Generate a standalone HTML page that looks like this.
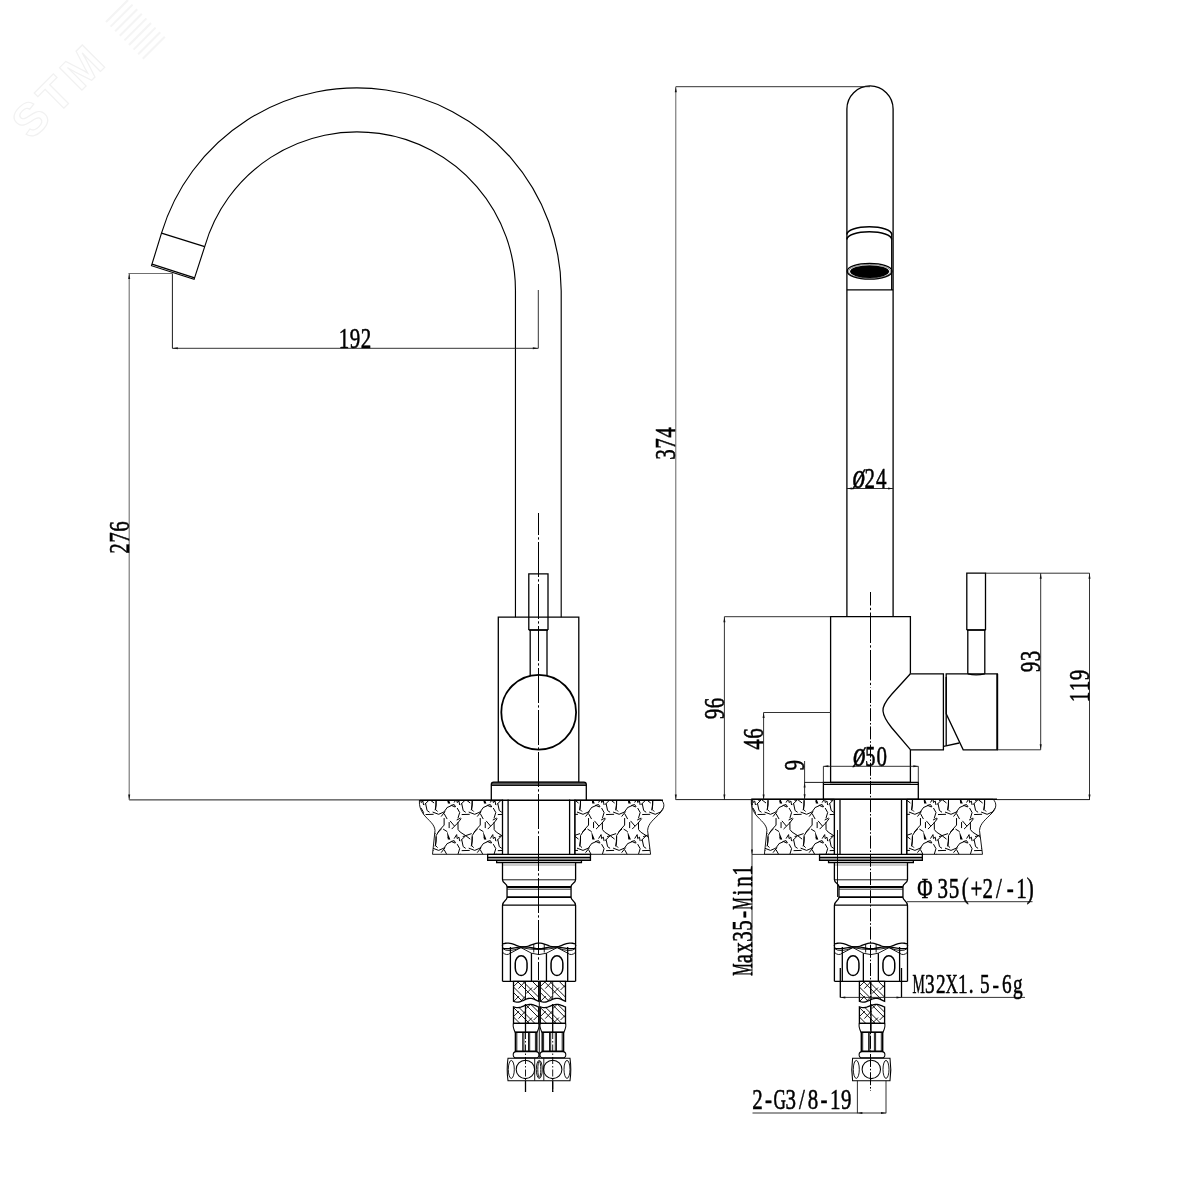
<!DOCTYPE html>
<html><head><meta charset="utf-8"><title>Faucet dimensional drawing</title>
<style>
html,body{margin:0;padding:0;background:#fff}
svg{display:block;filter:grayscale(1)}
.o{fill:none;stroke:#000;stroke-width:1.3}
.n{fill:none;stroke:#000;stroke-width:0.9}
.n1{fill:none;stroke:#000;stroke-width:1.05}
.sp{fill:none;stroke:#000;stroke-width:1.15}
.k{fill:none;stroke:#000;stroke-width:1.8}
.k1{fill:none;stroke:#000;stroke-width:1.4}
.k2{fill:none;stroke:#000;stroke-width:1.5}
.t{fill:none;stroke:#1c1c1c;stroke-width:0.9}
.a{fill:#111;stroke:none}
.tg2{fill:none;stroke:#505050;stroke-width:0.9}
.tg{fill:none;stroke:#707070;stroke-width:1.1}
.c{fill:none;stroke:#000;stroke-width:1;stroke-dasharray:35 2.3 2.3 2.4;stroke-dashoffset:13}
.cR{fill:none;stroke:#000;stroke-width:1;stroke-dasharray:30.5 2.3 2.3 2.4;stroke-dashoffset:17}
.cS{fill:none;stroke:#000;stroke-width:1;stroke-dasharray:13 1.8 1.6 1.8}
.c2{fill:none;stroke:#000;stroke-width:0.9;stroke-dasharray:7 2 1.5 2}
.g{fill:none;stroke:#000;stroke-width:1}
.gr{fill:none;stroke:#999;stroke-width:1}
.gw{fill:#000;stroke:none}
text{font-family:"Liberation Serif",serif;fill:#000;stroke:#000;stroke-width:0.55;text-anchor:middle}
text.wm{font-family:"Liberation Sans",sans-serif;font-weight:bold;fill:none;stroke:#f1f1f1;stroke-width:1.2;text-anchor:start;letter-spacing:5px}
</style></head><body>
<svg width="1200" height="1200" viewBox="0 0 1200 1200">
<rect width="1200" height="1200" fill="#fff"/>
<path class="sp" d="M561.2 617.2V290.7A204.2 204.2 0 0 0 161.5 233.2L151.5 265.7L194.1 279.4L204.7 246.6A158.45 158.45 0 0 1 515.45 290.7V617.2"/>
<path class="o" d="M161.5 233.2L204.7 246.6"/>
<path class="o" d="M152 264.1L194.6 277.8"/>
<path class="o" d="M498.3 617.2H578.8V782.5H498.3Z"/>
<path class="o" d="M528.8 630V573.8H548V630"/>
<path class="k" d="M528.8 630L548 630"/>
<path class="o" d="M530.2 630L530.2 676"/>
<path class="o" d="M547 630L547 676"/>
<circle class="k" cx="538.7" cy="712.2" r="37.4"/>
<path d="M491.3 785.5V784.4Q491.3 782.1 493.7 782.1H583.9Q586.3 782.1 586.3 784.4V785.5Z" fill="#555"/>
<path class="o" d="M491.3 800.2V784.4Q491.3 782.1 493.7 782.1H583.9Q586.3 782.1 586.3 784.4V800.2"/>
<path class="n" d="M491.3 785.5L586.3 785.5"/>
<path class="n" d="M129.2 799.9L419.4 799.9"/>
<path class="k1" d="M419.4 800.2L663 800.2"/>
<g id="stoneL">
<clipPath id="cl1"><path d="M419.4 800.2C419 806 420.6 810.5 424.1 815C428.6 820.5 434.6 824 435 830.5L432.5 854.3H502.5V800.2Z"/></clipPath><clipPath id="cr1"><path d="M575 800.2H661.2C665.2 803 664.6 808.5 660.1 813C654.6 819 648.1 823 647.6 830.5L650.6 854.3H575Z"/></clipPath>
<g clip-path="url(#cl1)"><path class="g" d="M444.14 781.96L444.14 788.98L439.62 793.99L436.12 799.51L436.12 805.02L435.11 810.29M421.83 785.97L421.98 793.49L424.08 796L429.6 799.51L434.11 803.02M426.59 800.51L429.6 799.51L435.61 797.5M418.07 802.52L420.57 798.5L421.07 802.52L422.83 801.01L423.58 805.02M414.56 805.52L418.07 804.52L419.57 807.03M424.58 804.52L429.6 799.61M444.14 818.06L444.14 825.08L439.62 830.09L436.12 835.61L436.12 841.12L435.11 846.39M425.59 814.55L433.61 814.3M421.07 808.03L423.58 812.54L421.83 818.31M421.83 822.07L421.98 829.59L424.08 832.1L429.6 835.61L434.11 839.12M426.59 836.61L429.6 835.61L435.61 833.6M432.61 812.04L438.62 814.3L443.89 812.04L447.4 807.28M441.13 816.55L445.14 811.54M444.14 813.55L447.15 819.06M425.59 803.52L427.09 810.54L429.6 812.29M436.12 800.51L435.61 809.53L437.62 811.54M411.05 807.53L415.56 805.52L419.07 807.03M413.95 820.87L418.37 826.08M437.62 832.5L441.63 828.89M415.56 829.09L421.57 823.07L425.08 818.56M420.57 820.06L424.58 818.06M418.07 838.62L420.57 834.6L421.07 838.62L422.83 837.11L423.58 841.12M414.56 841.62L418.07 840.62L419.57 843.13M424.58 840.62L429.6 835.71M444.14 854.16L444.14 861.18L439.62 866.19L436.12 871.71L436.12 877.22L435.11 882.49M425.59 850.65L433.61 850.4M421.07 844.13L423.58 848.64L421.83 854.41M432.61 848.14L438.62 850.4L443.89 848.14L447.4 843.38M441.13 852.65L445.14 847.64M444.14 849.65L447.15 855.16M425.59 839.62L427.09 846.64L429.6 848.39M436.12 836.61L435.61 845.63L437.62 847.64M411.05 843.63L415.56 841.62L419.07 843.13M413.95 856.97L418.37 862.18M415.56 865.19L421.57 859.17L425.08 854.66M420.57 856.16L424.58 854.16M480.24 781.96L480.24 788.98L475.73 793.99L472.22 799.51L472.22 805.02L471.21 810.29M457.93 785.97L458.08 793.49L460.18 796L465.7 799.51L470.21 803.02M462.69 800.51L465.7 799.51L471.71 797.5M454.17 802.52L456.67 798.5L457.17 802.52L458.93 801.01L459.68 805.02M450.66 805.52L454.17 804.52L455.67 807.03M460.68 804.52L465.7 799.61M480.24 818.06L480.24 825.08L475.73 830.09L472.22 835.61L472.22 841.12L471.21 846.39M461.69 814.55L469.71 814.3M457.17 808.03L459.68 812.54L457.93 818.31M457.93 822.07L458.08 829.59L460.18 832.1L465.7 835.61L470.21 839.12M462.69 836.61L465.7 835.61L471.71 833.6M468.71 812.04L474.72 814.3L479.99 812.04L483.5 807.28M477.23 816.55L481.24 811.54M480.24 813.55L483.25 819.06M461.69 803.52L463.19 810.54L465.7 812.29M472.22 800.51L471.71 809.53L473.72 811.54M447.15 807.53L451.66 805.52L455.17 807.03M449.15 822.07L449.15 828.09M450.05 820.87L454.47 826.08M473.72 832.5L477.73 828.89M451.66 829.09L457.68 823.07L461.18 818.56M456.67 820.06L460.68 818.06M443.13 829.09L447.15 831.6M454.17 838.62L456.67 834.6L457.17 838.62L458.93 837.11L459.68 841.12M450.66 841.62L454.17 840.62L455.67 843.13M460.68 840.62L465.7 835.71M447.65 801.61L449.65 802.82M480.24 854.16L480.24 861.18L475.73 866.19L472.22 871.71L472.22 877.22L471.21 882.49M461.69 850.65L469.71 850.4M457.17 844.13L459.68 848.64L457.93 854.41M468.71 848.14L474.72 850.4L479.99 848.14L483.5 843.38M477.23 852.65L481.24 847.64M480.24 849.65L483.25 855.16M461.69 839.62L463.19 846.64L465.7 848.39M472.22 836.61L471.71 845.63L473.72 847.64M447.15 843.63L451.66 841.62L455.17 843.13M450.05 856.97L454.47 862.18M451.66 865.19L457.68 859.17L461.18 854.66M456.67 856.16L460.68 854.16M447.65 837.71L449.65 838.92M494.03 785.97L494.18 793.49L496.28 796L501.8 799.51L506.31 803.02M498.79 800.51L501.8 799.51L507.81 797.5M490.27 802.52L492.77 798.5L493.27 802.52L495.03 801.01L495.78 805.02M486.76 805.52L490.27 804.52L491.77 807.03M496.78 804.52L501.8 799.61M497.79 814.55L505.81 814.3M493.27 808.03L495.78 812.54L494.03 818.31M494.03 822.07L494.18 829.59L496.28 832.1L501.8 835.61L506.31 839.12M498.79 836.61L501.8 835.61L507.81 833.6M497.79 803.52L499.29 810.54L501.8 812.29M483.25 807.53L487.76 805.52L491.27 807.03M485.25 822.07L485.25 828.09M486.15 820.87L490.57 826.08M487.76 829.09L493.77 823.07L497.28 818.56M492.77 820.06L496.78 818.06M479.23 829.09L483.25 831.6M490.27 838.62L492.77 834.6L493.27 838.62L495.03 837.11L495.78 841.12M486.76 841.62L490.27 840.62L491.77 843.13M496.78 840.62L501.8 835.71M483.75 801.61L485.75 802.82M497.79 850.65L505.81 850.4M493.27 844.13L495.78 848.64L494.03 854.41M497.79 839.62L499.29 846.64L501.8 848.39M483.25 843.63L487.76 841.62L491.27 843.13M486.15 856.97L490.57 862.18M487.76 865.19L493.77 859.17L497.28 854.66M492.77 856.16L496.78 854.16M483.75 837.71L485.75 838.92"/><path class="gw" d="M446.85 794.9L447.85 803.4L450.35 803.4ZM446.85 831L447.85 839.5L450.35 839.5ZM482.95 794.9L483.95 803.4L486.45 803.4ZM482.95 831L483.95 839.5L486.45 839.5Z"/></g>
<g clip-path="url(#cr1)"><path class="g" d="M588.54 781.96L588.54 788.98L584.02 793.99L580.52 799.51L580.52 805.02L579.51 810.29M566.23 785.97L566.38 793.49L568.48 796L574 799.51L578.51 803.02M570.99 800.51L574 799.51L580.01 797.5M568.98 804.52L574 799.61M588.54 818.06L588.54 825.08L584.02 830.09L580.52 835.61L580.52 841.12L579.51 846.39M569.99 814.55L578.01 814.3M566.23 822.07L566.38 829.59L568.48 832.1L574 835.61L578.51 839.12M570.99 836.61L574 835.61L580.01 833.6M577.01 812.04L583.02 814.3L588.29 812.04L591.8 807.28M585.53 816.55L589.54 811.54M588.54 813.55L591.55 819.06M569.99 803.52L571.49 810.54L574 812.29M580.52 800.51L580.01 809.53L582.02 811.54M582.02 832.5L586.03 828.89M568.98 840.62L574 835.71M588.54 854.16L588.54 861.18L584.02 866.19L580.52 871.71L580.52 877.22L579.51 882.49M569.99 850.65L578.01 850.4M577.01 848.14L583.02 850.4L588.29 848.14L591.8 843.38M585.53 852.65L589.54 847.64M588.54 849.65L591.55 855.16M569.99 839.62L571.49 846.64L574 848.39M580.52 836.61L580.01 845.63L582.02 847.64M624.64 781.96L624.64 788.98L620.12 793.99L616.62 799.51L616.62 805.02L615.61 810.29M602.33 785.97L602.48 793.49L604.58 796L610.1 799.51L614.61 803.02M607.09 800.51L610.1 799.51L616.11 797.5M598.57 802.52L601.07 798.5L601.57 802.52L603.33 801.01L604.08 805.02M595.06 805.52L598.57 804.52L600.07 807.03M605.08 804.52L610.1 799.61M624.64 818.06L624.64 825.08L620.12 830.09L616.62 835.61L616.62 841.12L615.61 846.39M606.09 814.55L614.11 814.3M601.57 808.03L604.08 812.54L602.33 818.31M602.33 822.07L602.48 829.59L604.58 832.1L610.1 835.61L614.61 839.12M607.09 836.61L610.1 835.61L616.11 833.6M613.11 812.04L619.12 814.3L624.39 812.04L627.9 807.28M621.63 816.55L625.64 811.54M624.64 813.55L627.65 819.06M606.09 803.52L607.59 810.54L610.1 812.29M616.62 800.51L616.11 809.53L618.12 811.54M591.55 807.53L596.06 805.52L599.57 807.03M593.55 822.07L593.55 828.09M594.45 820.87L598.87 826.08M618.12 832.5L622.13 828.89M596.06 829.09L602.08 823.07L605.58 818.56M601.07 820.06L605.08 818.06M587.53 829.09L591.55 831.6M598.57 838.62L601.07 834.6L601.57 838.62L603.33 837.11L604.08 841.12M595.06 841.62L598.57 840.62L600.07 843.13M605.08 840.62L610.1 835.71M592.05 801.61L594.05 802.82M624.64 854.16L624.64 861.18L620.12 866.19L616.62 871.71L616.62 877.22L615.61 882.49M606.09 850.65L614.11 850.4M601.57 844.13L604.08 848.64L602.33 854.41M613.11 848.14L619.12 850.4L624.39 848.14L627.9 843.38M621.63 852.65L625.64 847.64M624.64 849.65L627.65 855.16M606.09 839.62L607.59 846.64L610.1 848.39M616.62 836.61L616.11 845.63L618.12 847.64M591.55 843.63L596.06 841.62L599.57 843.13M594.45 856.97L598.87 862.18M596.06 865.19L602.08 859.17L605.58 854.66M601.07 856.16L605.08 854.16M592.05 837.71L594.05 838.92M660.74 781.96L660.74 788.98L656.23 793.99L652.72 799.51L652.72 805.02L651.71 810.29M638.43 785.97L638.58 793.49L640.68 796L646.2 799.51L650.71 803.02M643.19 800.51L646.2 799.51L652.21 797.5M634.67 802.52L637.17 798.5L637.67 802.52L639.43 801.01L640.18 805.02M631.16 805.52L634.67 804.52L636.17 807.03M641.18 804.52L646.2 799.61M660.74 818.06L660.74 825.08L656.23 830.09L652.72 835.61L652.72 841.12L651.71 846.39M642.19 814.55L650.21 814.3M637.67 808.03L640.18 812.54L638.43 818.31M638.43 822.07L638.58 829.59L640.68 832.1L646.2 835.61L650.71 839.12M643.19 836.61L646.2 835.61L652.21 833.6M649.21 812.04L655.22 814.3L660.49 812.04L664 807.28M657.73 816.55L661.74 811.54M660.74 813.55L663.75 819.06M642.19 803.52L643.69 810.54L646.2 812.29M652.72 800.51L652.21 809.53L654.22 811.54M627.65 807.53L632.16 805.52L635.67 807.03M629.65 822.07L629.65 828.09M630.55 820.87L634.97 826.08M654.22 832.5L658.23 828.89M632.16 829.09L638.18 823.07L641.68 818.56M637.17 820.06L641.18 818.06M623.63 829.09L627.65 831.6M634.67 838.62L637.17 834.6L637.67 838.62L639.43 837.11L640.18 841.12M631.16 841.62L634.67 840.62L636.17 843.13M641.18 840.62L646.2 835.71M628.15 801.61L630.15 802.82M660.74 854.16L660.74 861.18L656.23 866.19L652.72 871.71L652.72 877.22L651.71 882.49M642.19 850.65L650.21 850.4M637.67 844.13L640.18 848.64L638.43 854.41M649.21 848.14L655.22 850.4L660.49 848.14L664 843.38M657.73 852.65L661.74 847.64M660.74 849.65L663.75 855.16M642.19 839.62L643.69 846.64L646.2 848.39M652.72 836.61L652.21 845.63L654.22 847.64M627.65 843.63L632.16 841.62L635.67 843.13M630.55 856.97L634.97 862.18M632.16 865.19L638.18 859.17L641.68 854.66M637.17 856.16L641.18 854.16M628.15 837.71L630.15 838.92M667.26 805.52L670.77 804.52L672.27 807.03M663.75 807.53L668.26 805.52L671.77 807.03M665.75 822.07L665.75 828.09M666.65 820.87L671.07 826.08M659.73 829.09L663.75 831.6M667.26 841.62L670.77 840.62L672.27 843.13M664.25 801.61L666.25 802.82M663.75 843.63L668.26 841.62L671.77 843.13M666.65 856.97L671.07 862.18M664.25 837.71L666.25 838.92"/><path class="gw" d="M591.25 794.9L592.25 803.4L594.75 803.4ZM591.25 831L592.25 839.5L594.75 839.5ZM627.35 794.9L628.35 803.4L630.85 803.4ZM627.35 831L628.35 839.5L630.85 839.5ZM663.45 794.9L664.45 803.4L666.95 803.4ZM663.45 831L664.45 839.5L666.95 839.5Z"/></g>
<path class="n" d="M419.4 800.2C419 806 420.6 810.5 424.1 815C428.6 820.5 434.6 824 435 830.5L432.5 854.3H502.5V800.2Z"/>
<path class="n" d="M575 800.2H661.2C665.2 803 664.6 808.5 660.1 813C654.6 819 648.1 823 647.6 830.5L650.6 854.3H575Z"/>
</g>
<path class="o" d="M502.5 799.5L502.5 854.3"/>
<path class="o" d="M508.1 799.5L508.1 854.3"/>
<path class="o" d="M569.6 799.5L569.6 854.3"/>
<path class="o" d="M574.8 799.5L574.8 854.3"/>
<rect x="487.65" y="857.3" width="102.8" height="3" fill="#9a9a9a"/>
<path class="o" d="M487.65 854.4H590.45V860.3H487.65Z"/>
<path class="o" d="M487.65 857.3L590.45 857.3"/>
<path class="o" d="M496.65 860.3V862.5H581.45V860.3"/>
<path class="gr" d="M503.05 865L575.05 865"/>
<path class="o" d="M502.5 862.5V879.5C502.5 883.5 507.05 883 507.05 887V897.2C507.05 901 502.5 900.5 502.5 905.5V946"/>
<path class="o" d="M575.6 862.5V879.5C575.6 883.5 571.05 883 571.05 887V897.2C571.05 901 575.6 900.5 575.6 905.5V946"/>
<path class="n" d="M502.5 879.8L575.6 879.8"/>
<path class="k" d="M507.05 887L571.05 887"/>
<path class="t" d="M507.05 889.2L571.05 889.2"/>
<path class="k" d="M507.05 897.2L571.05 897.2"/>
<path class="o" d="M502.5 905.2L575.6 905.2"/>
<path class="o" d="M502.5 945L502.5 981.3"/>
<path class="o" d="M575.6 945L575.6 981.3"/>
<path class="o" d="M502.5 981.3L575.6 981.3"/>
<path class="o" d="M502.5 943.99L504.02 943.55L505.55 943.25L507.07 943.11L508.59 943.14L510.11 943.34L511.64 943.7L513.16 944.17L514.68 944.72L516.21 945.29L517.73 945.84L519.25 946.31L520.78 946.66L522.3 946.86L523.82 946.89L525.34 946.74L526.87 946.44L528.39 946L529.91 945.47L531.44 944.9L532.96 944.34L534.48 943.84L536 943.44L537.53 943.19L539.05 943.1L540.57 943.19L542.1 943.44L543.62 943.84L545.14 944.34L546.66 944.9L548.19 945.47L549.71 946L551.23 946.44L552.76 946.74L554.28 946.89L555.8 946.86L557.33 946.66L558.85 946.31L560.37 945.84L561.89 945.29L563.42 944.72L564.94 944.17L566.46 943.7L567.99 943.34L569.51 943.14L571.03 943.11L572.55 943.25L574.08 943.55L575.6 943.99"/>
<path class="o" d="M502.5 948.18L504.02 948.39L505.55 948.53L507.07 948.6L508.59 948.58L510.11 948.48L511.64 948.32L513.16 948.09L514.68 947.83L516.21 947.56L517.73 947.3L519.25 947.08L520.78 946.91L522.3 946.82L523.82 946.8L525.34 946.87L526.87 947.02L528.39 947.23L529.91 947.48L531.44 947.75L532.96 948.01L534.48 948.25L536 948.44L537.53 948.56L539.05 948.6L540.57 948.56L542.1 948.44L543.62 948.25L545.14 948.01L546.66 947.75L548.19 947.48L549.71 947.23L551.23 947.02L552.76 946.87L554.28 946.8L555.8 946.82L557.33 946.91L558.85 947.08L560.37 947.3L561.89 947.56L563.42 947.83L564.94 948.09L566.46 948.32L567.99 948.48L569.51 948.58L571.03 948.6L572.55 948.53L574.08 948.39L575.6 948.18"/>
<path class="o" d="M510.4 947L510.4 981.3"/>
<path class="o" d="M531.45 953.2L531.45 981.3"/>
<path class="o" d="M546.45 953.2L546.45 981.3"/>
<path class="o" d="M567.7 947L567.7 981.3"/>
<path class="n" d="M533.75 944L533.75 952.5"/>
<path class="n" d="M544.25 944L544.25 952.5"/>
<path class="n" d="M510.4 953.2L520.95 947.6L531.45 953.2"/>
<path class="n" d="M546.45 953.2L557.15 947.6L567.7 953.2"/>
<path class="n" d="M531.45 953.2Q539.05 956 546.45 953.2"/>
<path class="n" d="M502.5 952.3Q506.55 956.3 510.4 953.2"/>
<path class="n" d="M575.6 952.3Q571.55 956.3 567.7 953.2"/>
<path class="n" d="M502.5 948.5Q508.05 953 520.95 947.6"/>
<path class="n" d="M575.6 948.5Q570.05 953 557.15 947.6"/>
<path class="n" d="M520.95 947.6Q539.05 951.5 557.15 947.6"/>
<rect class="k2" x="515.25" y="955.8" width="11.8" height="19.8" rx="5.9" ry="7.5"/>
<rect class="k2" x="551.05" y="955.8" width="11.8" height="19.8" rx="5.9" ry="7.5"/>
<clipPath id="h5261"><path d="M513.5 981.3L513.5 1001.27L514.55 1001.64L515.6 1001.91L516.65 1002.07L517.7 1002.09L518.75 1001.99L519.8 1001.77L520.85 1001.44L521.9 1001.02L522.95 1000.55L524 1000.05L525.05 999.57L526.1 999.13L527.15 998.76L528.2 998.49L529.25 998.33L530.3 998.31L531.35 998.41L532.4 998.63L533.45 998.96L534.5 999.38L535.55 999.85L536.6 1000.35L537.65 1000.83L538.7 1001.27L538.7 981.3Z"/><path d="M513.5 1006.9L514.55 1007.21L515.6 1007.44L516.65 1007.57L517.7 1007.6L518.75 1007.51L519.8 1007.32L520.85 1007.04L521.9 1006.69L522.95 1006.29L524 1005.88L525.05 1005.47L526.1 1005.1L527.15 1004.79L528.2 1004.56L529.25 1004.43L530.3 1004.4L531.35 1004.49L532.4 1004.68L533.45 1004.96L534.5 1005.31L535.55 1005.71L536.6 1006.12L537.65 1006.53L538.7 1006.9L538.7 1023.3L513.5 1023.3Z"/></clipPath>
<g clip-path="url(#h5261)"><path class="n" d="M513.5 927L538.7 952.2M513.5 932.5L538.7 957.7M513.5 942L538.7 967.2M513.5 947.5L538.7 972.7M513.5 957L538.7 982.2M513.5 962.5L538.7 987.7M513.5 972L538.7 997.2M513.5 977.5L538.7 1002.7M513.5 987L538.7 1012.2M513.5 992.5L538.7 1017.7M513.5 1002L538.7 1027.2M513.5 1007.5L538.7 1032.7M513.5 1017L538.7 1042.2M513.5 1022.5L538.7 1047.7M513.5 1032L538.7 1057.2M513.5 1037.5L538.7 1062.7M513.5 1047L538.7 1072.2M513.5 1052.5L538.7 1077.7M513.5 1062L538.7 1087.2M513.5 1067.5L538.7 1092.7M513.5 1077L538.7 1102.2M513.5 1082.5L538.7 1107.7M518.5 943.6L525.6 936M513.5 956.6L519 951.1M526.1 948.6L532.1 942.6M533.7 945L538.7 940M518.5 958.6L525.6 951M513.5 971.6L519 966.1M526.1 963.6L532.1 957.6M533.7 960L538.7 955M518.5 973.6L525.6 966M513.5 986.6L519 981.1M526.1 978.6L532.1 972.6M533.7 975L538.7 970M518.5 988.6L525.6 981M513.5 1001.6L519 996.1M526.1 993.6L532.1 987.6M533.7 990L538.7 985M518.5 1003.6L525.6 996M513.5 1016.6L519 1011.1M526.1 1008.6L532.1 1002.6M533.7 1005L538.7 1000M518.5 1018.6L525.6 1011M513.5 1031.6L519 1026.1M526.1 1023.6L532.1 1017.6M533.7 1020L538.7 1015M518.5 1033.6L525.6 1026M513.5 1046.6L519 1041.1M526.1 1038.6L532.1 1032.6M533.7 1035L538.7 1030M518.5 1048.6L525.6 1041M513.5 1061.6L519 1056.1M526.1 1053.6L532.1 1047.6M533.7 1050L538.7 1045M518.5 1063.6L525.6 1056M513.5 1076.6L519 1071.1M526.1 1068.6L532.1 1062.6M533.7 1065L538.7 1060M518.5 1078.6L525.6 1071M513.5 1091.6L519 1086.1M526.1 1083.6L532.1 1077.6M533.7 1080L538.7 1075M518.5 1093.6L525.6 1086M513.5 1106.6L519 1101.1M526.1 1098.6L532.1 1092.6M533.7 1095L538.7 1090"/></g>
<path class="o" d="M513.5 981.3L513.5 1001.27L514.55 1001.64L515.6 1001.91L516.65 1002.07L517.7 1002.09L518.75 1001.99L519.8 1001.77L520.85 1001.44L521.9 1001.02L522.95 1000.55L524 1000.05L525.05 999.57L526.1 999.13L527.15 998.76L528.2 998.49L529.25 998.33L530.3 998.31L531.35 998.41L532.4 998.63L533.45 998.96L534.5 999.38L535.55 999.85L536.6 1000.35L537.65 1000.83L538.7 1001.27L538.7 981.3Z"/>
<path class="o" d="M513.5 1006.9L514.55 1007.21L515.6 1007.44L516.65 1007.57L517.7 1007.6L518.75 1007.51L519.8 1007.32L520.85 1007.04L521.9 1006.69L522.95 1006.29L524 1005.88L525.05 1005.47L526.1 1005.1L527.15 1004.79L528.2 1004.56L529.25 1004.43L530.3 1004.4L531.35 1004.49L532.4 1004.68L533.45 1004.96L534.5 1005.31L535.55 1005.71L536.6 1006.12L537.65 1006.53L538.7 1006.9L538.7 1023.3L513.5 1023.3Z"/>
<path class="n" d="M525.5 981.3L525.5 1000"/>
<path class="o" d="M525.5 1004L525.5 1032"/>
<path class="n1" d="M513.5 1023.3H538.7Q539.9 1026.5 537.1 1032.2H515.1Q512.3 1026.5 513.5 1023.3Z"/>
<path class="k1" d="M515.4 1032.3H536.8V1051.3H515.4Z"/>
<path class="n" d="M522.7 1032.3L522.7 1051.3"/>
<path class="n" d="M523.9 1032.3L523.9 1051.3"/>
<path class="n" d="M528.5 1032.3L528.5 1051.3"/>
<path class="n" d="M529.7 1032.3L529.7 1051.3"/>
<path class="n" d="M516.8 1032.3L516.8 1051.3"/>
<path class="n" d="M535.4 1032.3L535.4 1051.3"/>
<rect class="n1" x="513.2" y="1051.6" width="25.8" height="6.2" rx="3.1"/>
<clipPath id="h5529"><path d="M540.3 981.3L540.3 1001.27L541.35 1001.64L542.4 1001.91L543.45 1002.07L544.5 1002.09L545.55 1001.99L546.6 1001.77L547.65 1001.44L548.7 1001.02L549.75 1000.55L550.8 1000.05L551.85 999.57L552.9 999.13L553.95 998.76L555 998.49L556.05 998.33L557.1 998.31L558.15 998.41L559.2 998.63L560.25 998.96L561.3 999.38L562.35 999.85L563.4 1000.35L564.45 1000.83L565.5 1001.27L565.5 981.3Z"/><path d="M540.3 1006.9L541.35 1007.21L542.4 1007.44L543.45 1007.57L544.5 1007.6L545.55 1007.51L546.6 1007.32L547.65 1007.04L548.7 1006.69L549.75 1006.29L550.8 1005.88L551.85 1005.47L552.9 1005.1L553.95 1004.79L555 1004.56L556.05 1004.43L557.1 1004.4L558.15 1004.49L559.2 1004.68L560.25 1004.96L561.3 1005.31L562.35 1005.71L563.4 1006.12L564.45 1006.53L565.5 1006.9L565.5 1023.3L540.3 1023.3Z"/></clipPath>
<g clip-path="url(#h5529)"><path class="n" d="M540.3 927L565.5 952.2M540.3 932.5L565.5 957.7M540.3 942L565.5 967.2M540.3 947.5L565.5 972.7M540.3 957L565.5 982.2M540.3 962.5L565.5 987.7M540.3 972L565.5 997.2M540.3 977.5L565.5 1002.7M540.3 987L565.5 1012.2M540.3 992.5L565.5 1017.7M540.3 1002L565.5 1027.2M540.3 1007.5L565.5 1032.7M540.3 1017L565.5 1042.2M540.3 1022.5L565.5 1047.7M540.3 1032L565.5 1057.2M540.3 1037.5L565.5 1062.7M540.3 1047L565.5 1072.2M540.3 1052.5L565.5 1077.7M540.3 1062L565.5 1087.2M540.3 1067.5L565.5 1092.7M540.3 1077L565.5 1102.2M540.3 1082.5L565.5 1107.7M545.3 943.6L552.4 936M540.3 956.6L545.8 951.1M552.9 948.6L558.9 942.6M560.5 945L565.5 940M545.3 958.6L552.4 951M540.3 971.6L545.8 966.1M552.9 963.6L558.9 957.6M560.5 960L565.5 955M545.3 973.6L552.4 966M540.3 986.6L545.8 981.1M552.9 978.6L558.9 972.6M560.5 975L565.5 970M545.3 988.6L552.4 981M540.3 1001.6L545.8 996.1M552.9 993.6L558.9 987.6M560.5 990L565.5 985M545.3 1003.6L552.4 996M540.3 1016.6L545.8 1011.1M552.9 1008.6L558.9 1002.6M560.5 1005L565.5 1000M545.3 1018.6L552.4 1011M540.3 1031.6L545.8 1026.1M552.9 1023.6L558.9 1017.6M560.5 1020L565.5 1015M545.3 1033.6L552.4 1026M540.3 1046.6L545.8 1041.1M552.9 1038.6L558.9 1032.6M560.5 1035L565.5 1030M545.3 1048.6L552.4 1041M540.3 1061.6L545.8 1056.1M552.9 1053.6L558.9 1047.6M560.5 1050L565.5 1045M545.3 1063.6L552.4 1056M540.3 1076.6L545.8 1071.1M552.9 1068.6L558.9 1062.6M560.5 1065L565.5 1060M545.3 1078.6L552.4 1071M540.3 1091.6L545.8 1086.1M552.9 1083.6L558.9 1077.6M560.5 1080L565.5 1075M545.3 1093.6L552.4 1086M540.3 1106.6L545.8 1101.1M552.9 1098.6L558.9 1092.6M560.5 1095L565.5 1090"/></g>
<path class="o" d="M540.3 981.3L540.3 1001.27L541.35 1001.64L542.4 1001.91L543.45 1002.07L544.5 1002.09L545.55 1001.99L546.6 1001.77L547.65 1001.44L548.7 1001.02L549.75 1000.55L550.8 1000.05L551.85 999.57L552.9 999.13L553.95 998.76L555 998.49L556.05 998.33L557.1 998.31L558.15 998.41L559.2 998.63L560.25 998.96L561.3 999.38L562.35 999.85L563.4 1000.35L564.45 1000.83L565.5 1001.27L565.5 981.3Z"/>
<path class="o" d="M540.3 1006.9L541.35 1007.21L542.4 1007.44L543.45 1007.57L544.5 1007.6L545.55 1007.51L546.6 1007.32L547.65 1007.04L548.7 1006.69L549.75 1006.29L550.8 1005.88L551.85 1005.47L552.9 1005.1L553.95 1004.79L555 1004.56L556.05 1004.43L557.1 1004.4L558.15 1004.49L559.2 1004.68L560.25 1004.96L561.3 1005.31L562.35 1005.71L563.4 1006.12L564.45 1006.53L565.5 1006.9L565.5 1023.3L540.3 1023.3Z"/>
<path class="n" d="M552.7 981.3L552.7 1000"/>
<path class="o" d="M552.7 1004L552.7 1032"/>
<path class="n1" d="M540.3 1023.3H565.5Q566.7 1026.5 563.9 1032.2H541.9Q539.1 1026.5 540.3 1023.3Z"/>
<path class="k1" d="M542.2 1032.3H563.6V1051.3H542.2Z"/>
<path class="n" d="M549.5 1032.3L549.5 1051.3"/>
<path class="n" d="M550.7 1032.3L550.7 1051.3"/>
<path class="n" d="M555.3 1032.3L555.3 1051.3"/>
<path class="n" d="M556.5 1032.3L556.5 1051.3"/>
<path class="n" d="M543.6 1032.3L543.6 1051.3"/>
<path class="n" d="M562.2 1032.3L562.2 1051.3"/>
<rect class="n1" x="540" y="1051.6" width="25.8" height="6.2" rx="3.1"/>
<path class="n" d="M539.3 981.3L539.3 1058"/>
<path class="n1" d="M508 1058.3H570Q571.6 1069.5 570 1080.7H508Q506.4 1069.5 508 1058.3Z"/>
<circle class="n1" cx="525.4" cy="1069.4" r="9.2"/>
<circle class="n1" cx="552.7" cy="1069.4" r="9.2"/>
<ellipse class="n" cx="511.3" cy="1069.4" rx="3" ry="9"/>
<ellipse class="n" cx="567" cy="1069.4" rx="3" ry="9"/>
<ellipse class="n" cx="539.3" cy="1069.4" rx="3" ry="9"/>
<ellipse class="n" cx="539.3" cy="1069.4" rx="1.5" ry="8"/>
<path class="n" d="M534.7 1058.3L534.7 1080.7"/>
<path class="n" d="M543.8 1058.3L543.8 1080.7"/>
<path class="c" d="M538.5 513L538.5 980"/>
<path class="c2" d="M525.5 1032L525.5 1092"/>
<path class="c2" d="M552.7 1032L552.7 1092"/>
<path class="o" d="M525.5 1080.7L525.5 1092"/>
<path class="o" d="M552.7 1080.7L552.7 1092"/>
<path class="tg" d="M128.5 273.5L172.3 273.5"/>
<path class="n" d="M172.4 273.5L172.4 348.3"/>
<path class="t" d="M172.3 348.3L538.3 348.3"/>
<path class="t" d="M538.3 290L538.3 348.3"/>
<path class="a" d="M172.3 348.3L177.8 347.3L177.8 349.3Z"/>
<path class="a" d="M538.3 348.3L532.8 349.3L532.8 347.3Z"/>
<path class="tg" d="M129.2 273.5L129.2 800"/>
<path class="a" d="M129.2 273.5L130.2 279L128.2 279Z"/>
<path class="a" d="M129.2 800L128.2 794.5L130.2 794.5Z"/>
<path class="o" d="M846.9 616.7V109A23.1 23.1 0 0 1 893.1 109V616.7"/>
<path class="k2" d="M846.9 234.4A22.4 7.7 0 0 1 891.7 234.4"/>
<path class="k2" d="M846.9 239.4A22.4 7.7 0 0 1 891.7 239.4"/>
<path class="o" d="M891.7 233.5L891.7 290"/>
<ellipse class="o" cx="869.6" cy="271.3" rx="22.4" ry="7.9"/>
<ellipse class="t" cx="869.6" cy="271.5" rx="21" ry="7.1" style="stroke-width:.5"/>
<ellipse cx="869.6" cy="271.6" rx="19.5" ry="6.4" fill="#000"/>
<path class="o" d="M846.9 289.8L893.1 289.8"/>
<path class="o" d="M910.4 673.8V616.7H830.6V782.5H910.4V749.6"/>
<path class="o" d="M910.4 673.8L891.5 694.5C884.5 702.5 882.6 707 883 711C883.4 715.5 885.5 720 891.5 727.5L910.4 749.6"/>
<path class="o" d="M910.4 673.8H943.4V749.8H910.4"/>
<path class="o" d="M946.2 677L946.2 745.5"/>
<path class="o" d="M946.2 713.8V673.8H997.3V749.8H963.2Z"/>
<path class="o" d="M943.6 746.3L959.2 743"/>
<path class="k" d="M997.3 673.8L997.3 749.8"/>
<path class="o" d="M967.8 630V673.8M984.8 630V673.8"/>
<path class="o" d="M967.8 673.8Q976 675.8 984.8 673.8"/>
<path class="o" d="M966.8 630V573.2H985.5V630"/>
<path class="k" d="M966.8 630L985.5 630"/>
<path class="o" d="M823.4 782.4H918.3V799.3H823.4Z"/>
<path class="o" d="M823.4 784.3L918.3 784.3"/>
<path class="n" d="M675.8 799.6L751.3 799.6"/>
<path class="k1" d="M751.3 799.3L997 799.3"/>
<path class="n" d="M997 799.6L1089.5 799.6"/>
<g id="stoneR">
<clipPath id="cl2"><path d="M751.3 799.3C750.9 806 752.5 810.5 756 815C760.5 820.5 766.5 824 766.9 830.5L764.4 854.3H834.4V799.3Z"/></clipPath><clipPath id="cr2"><path d="M906.9 799.3H993.1C997.1 803 996.5 808.5 992 813C986.5 819 980 823 979.5 830.5L982.5 854.3H906.9Z"/></clipPath>
<g clip-path="url(#cl2)"><path class="g" d="M776.04 781.96L776.04 788.98L771.52 793.99L768.02 799.51L768.02 805.02L767.01 810.29M753.73 785.97L753.88 793.49L755.98 796L761.5 799.51L766.01 803.02M758.49 800.51L761.5 799.51L767.51 797.5M749.97 802.52L752.47 798.5L752.97 802.52L754.73 801.01L755.48 805.02M746.46 805.52L749.97 804.52L751.47 807.03M756.48 804.52L761.5 799.61M776.04 818.06L776.04 825.08L771.52 830.09L768.02 835.61L768.02 841.12L767.01 846.39M757.49 814.55L765.51 814.3M752.97 808.03L755.48 812.54L753.73 818.31M753.73 822.07L753.88 829.59L755.98 832.1L761.5 835.61L766.01 839.12M758.49 836.61L761.5 835.61L767.51 833.6M764.51 812.04L770.52 814.3L775.79 812.04L779.3 807.28M773.03 816.55L777.04 811.54M776.04 813.55L779.05 819.06M757.49 803.52L758.99 810.54L761.5 812.29M768.02 800.51L767.51 809.53L769.52 811.54M742.95 807.53L747.46 805.52L750.97 807.03M745.85 820.87L750.27 826.08M769.52 832.5L773.53 828.89M747.46 829.09L753.48 823.07L756.98 818.56M752.47 820.06L756.48 818.06M749.97 838.62L752.47 834.6L752.97 838.62L754.73 837.11L755.48 841.12M746.46 841.62L749.97 840.62L751.47 843.13M756.48 840.62L761.5 835.71M776.04 854.16L776.04 861.18L771.52 866.19L768.02 871.71L768.02 877.22L767.01 882.49M757.49 850.65L765.51 850.4M752.97 844.13L755.48 848.64L753.73 854.41M764.51 848.14L770.52 850.4L775.79 848.14L779.3 843.38M773.03 852.65L777.04 847.64M776.04 849.65L779.05 855.16M757.49 839.62L758.99 846.64L761.5 848.39M768.02 836.61L767.51 845.63L769.52 847.64M742.95 843.63L747.46 841.62L750.97 843.13M745.85 856.97L750.27 862.18M747.46 865.19L753.48 859.17L756.98 854.66M752.47 856.16L756.48 854.16M812.14 781.96L812.14 788.98L807.62 793.99L804.12 799.51L804.12 805.02L803.11 810.29M789.83 785.97L789.98 793.49L792.08 796L797.6 799.51L802.11 803.02M794.59 800.51L797.6 799.51L803.61 797.5M786.07 802.52L788.57 798.5L789.07 802.52L790.83 801.01L791.58 805.02M782.56 805.52L786.07 804.52L787.57 807.03M792.58 804.52L797.6 799.61M812.14 818.06L812.14 825.08L807.62 830.09L804.12 835.61L804.12 841.12L803.11 846.39M793.59 814.55L801.61 814.3M789.07 808.03L791.58 812.54L789.83 818.31M789.83 822.07L789.98 829.59L792.08 832.1L797.6 835.61L802.11 839.12M794.59 836.61L797.6 835.61L803.61 833.6M800.61 812.04L806.62 814.3L811.89 812.04L815.4 807.28M809.13 816.55L813.14 811.54M812.14 813.55L815.15 819.06M793.59 803.52L795.09 810.54L797.6 812.29M804.12 800.51L803.61 809.53L805.62 811.54M779.05 807.53L783.56 805.52L787.07 807.03M781.05 822.07L781.05 828.09M781.95 820.87L786.37 826.08M805.62 832.5L809.63 828.89M783.56 829.09L789.58 823.07L793.08 818.56M788.57 820.06L792.58 818.06M775.03 829.09L779.05 831.6M786.07 838.62L788.57 834.6L789.07 838.62L790.83 837.11L791.58 841.12M782.56 841.62L786.07 840.62L787.57 843.13M792.58 840.62L797.6 835.71M779.55 801.61L781.55 802.82M812.14 854.16L812.14 861.18L807.62 866.19L804.12 871.71L804.12 877.22L803.11 882.49M793.59 850.65L801.61 850.4M789.07 844.13L791.58 848.64L789.83 854.41M800.61 848.14L806.62 850.4L811.89 848.14L815.4 843.38M809.13 852.65L813.14 847.64M812.14 849.65L815.15 855.16M793.59 839.62L795.09 846.64L797.6 848.39M804.12 836.61L803.61 845.63L805.62 847.64M779.05 843.63L783.56 841.62L787.07 843.13M781.95 856.97L786.37 862.18M783.56 865.19L789.58 859.17L793.08 854.66M788.57 856.16L792.58 854.16M779.55 837.71L781.55 838.92M825.93 785.97L826.08 793.49L828.18 796L833.7 799.51L838.21 803.02M830.69 800.51L833.7 799.51L839.71 797.5M822.17 802.52L824.67 798.5L825.17 802.52L826.93 801.01L827.68 805.02M818.66 805.52L822.17 804.52L823.67 807.03M828.68 804.52L833.7 799.61M829.69 814.55L837.71 814.3M825.17 808.03L827.68 812.54L825.93 818.31M825.93 822.07L826.08 829.59L828.18 832.1L833.7 835.61L838.21 839.12M830.69 836.61L833.7 835.61L839.71 833.6M829.69 803.52L831.19 810.54L833.7 812.29M815.15 807.53L819.66 805.52L823.17 807.03M817.15 822.07L817.15 828.09M818.05 820.87L822.47 826.08M819.66 829.09L825.67 823.07L829.18 818.56M824.67 820.06L828.68 818.06M811.13 829.09L815.15 831.6M822.17 838.62L824.67 834.6L825.17 838.62L826.93 837.11L827.68 841.12M818.66 841.62L822.17 840.62L823.67 843.13M828.68 840.62L833.7 835.71M815.65 801.61L817.65 802.82M829.69 850.65L837.71 850.4M825.17 844.13L827.68 848.64L825.93 854.41M829.69 839.62L831.19 846.64L833.7 848.39M815.15 843.63L819.66 841.62L823.17 843.13M818.05 856.97L822.47 862.18M819.66 865.19L825.67 859.17L829.18 854.66M824.67 856.16L828.68 854.16M815.65 837.71L817.65 838.92"/><path class="gw" d="M778.75 794.9L779.75 803.4L782.25 803.4ZM778.75 831L779.75 839.5L782.25 839.5ZM814.85 794.9L815.85 803.4L818.35 803.4ZM814.85 831L815.85 839.5L818.35 839.5Z"/></g>
<g clip-path="url(#cr2)"><path class="g" d="M920.44 781.96L920.44 788.98L915.92 793.99L912.42 799.51L912.42 805.02L911.41 810.29M898.13 785.97L898.28 793.49L900.38 796L905.9 799.51L910.41 803.02M902.89 800.51L905.9 799.51L911.91 797.5M900.88 804.52L905.9 799.61M920.44 818.06L920.44 825.08L915.92 830.09L912.42 835.61L912.42 841.12L911.41 846.39M901.89 814.55L909.91 814.3M898.13 822.07L898.28 829.59L900.38 832.1L905.9 835.61L910.41 839.12M902.89 836.61L905.9 835.61L911.91 833.6M908.91 812.04L914.92 814.3L920.19 812.04L923.7 807.28M917.43 816.55L921.44 811.54M920.44 813.55L923.45 819.06M901.89 803.52L903.39 810.54L905.9 812.29M912.42 800.51L911.91 809.53L913.92 811.54M913.92 832.5L917.93 828.89M900.88 840.62L905.9 835.71M920.44 854.16L920.44 861.18L915.92 866.19L912.42 871.71L912.42 877.22L911.41 882.49M901.89 850.65L909.91 850.4M908.91 848.14L914.92 850.4L920.19 848.14L923.7 843.38M917.43 852.65L921.44 847.64M920.44 849.65L923.45 855.16M901.89 839.62L903.39 846.64L905.9 848.39M912.42 836.61L911.91 845.63L913.92 847.64M956.54 781.96L956.54 788.98L952.02 793.99L948.52 799.51L948.52 805.02L947.51 810.29M934.23 785.97L934.38 793.49L936.48 796L942 799.51L946.51 803.02M938.99 800.51L942 799.51L948.01 797.5M930.47 802.52L932.97 798.5L933.47 802.52L935.23 801.01L935.98 805.02M926.96 805.52L930.47 804.52L931.97 807.03M936.98 804.52L942 799.61M956.54 818.06L956.54 825.08L952.02 830.09L948.52 835.61L948.52 841.12L947.51 846.39M937.99 814.55L946.01 814.3M933.47 808.03L935.98 812.54L934.23 818.31M934.23 822.07L934.38 829.59L936.48 832.1L942 835.61L946.51 839.12M938.99 836.61L942 835.61L948.01 833.6M945.01 812.04L951.02 814.3L956.29 812.04L959.8 807.28M953.53 816.55L957.54 811.54M956.54 813.55L959.55 819.06M937.99 803.52L939.49 810.54L942 812.29M948.52 800.51L948.01 809.53L950.02 811.54M923.45 807.53L927.96 805.52L931.47 807.03M925.45 822.07L925.45 828.09M926.35 820.87L930.77 826.08M950.02 832.5L954.03 828.89M927.96 829.09L933.98 823.07L937.48 818.56M932.97 820.06L936.98 818.06M919.43 829.09L923.45 831.6M930.47 838.62L932.97 834.6L933.47 838.62L935.23 837.11L935.98 841.12M926.96 841.62L930.47 840.62L931.97 843.13M936.98 840.62L942 835.71M923.95 801.61L925.95 802.82M956.54 854.16L956.54 861.18L952.02 866.19L948.52 871.71L948.52 877.22L947.51 882.49M937.99 850.65L946.01 850.4M933.47 844.13L935.98 848.64L934.23 854.41M945.01 848.14L951.02 850.4L956.29 848.14L959.8 843.38M953.53 852.65L957.54 847.64M956.54 849.65L959.55 855.16M937.99 839.62L939.49 846.64L942 848.39M948.52 836.61L948.01 845.63L950.02 847.64M923.45 843.63L927.96 841.62L931.47 843.13M926.35 856.97L930.77 862.18M927.96 865.19L933.98 859.17L937.48 854.66M932.97 856.16L936.98 854.16M923.95 837.71L925.95 838.92M992.64 781.96L992.64 788.98L988.12 793.99L984.62 799.51L984.62 805.02L983.61 810.29M970.33 785.97L970.48 793.49L972.58 796L978.1 799.51L982.61 803.02M975.09 800.51L978.1 799.51L984.11 797.5M966.57 802.52L969.07 798.5L969.57 802.52L971.33 801.01L972.08 805.02M963.06 805.52L966.57 804.52L968.07 807.03M973.08 804.52L978.1 799.61M992.64 818.06L992.64 825.08L988.12 830.09L984.62 835.61L984.62 841.12L983.61 846.39M974.09 814.55L982.11 814.3M969.57 808.03L972.08 812.54L970.33 818.31M970.33 822.07L970.48 829.59L972.58 832.1L978.1 835.61L982.61 839.12M975.09 836.61L978.1 835.61L984.11 833.6M981.11 812.04L987.12 814.3L992.39 812.04L995.9 807.28M989.63 816.55L993.64 811.54M992.64 813.55L995.65 819.06M974.09 803.52L975.59 810.54L978.1 812.29M984.62 800.51L984.11 809.53L986.12 811.54M959.55 807.53L964.06 805.52L967.57 807.03M961.55 822.07L961.55 828.09M962.45 820.87L966.87 826.08M986.12 832.5L990.13 828.89M964.06 829.09L970.08 823.07L973.58 818.56M969.07 820.06L973.08 818.06M955.53 829.09L959.55 831.6M966.57 838.62L969.07 834.6L969.57 838.62L971.33 837.11L972.08 841.12M963.06 841.62L966.57 840.62L968.07 843.13M973.08 840.62L978.1 835.71M960.05 801.61L962.05 802.82M992.64 854.16L992.64 861.18L988.12 866.19L984.62 871.71L984.62 877.22L983.61 882.49M974.09 850.65L982.11 850.4M969.57 844.13L972.08 848.64L970.33 854.41M981.11 848.14L987.12 850.4L992.39 848.14L995.9 843.38M989.63 852.65L993.64 847.64M992.64 849.65L995.65 855.16M974.09 839.62L975.59 846.64L978.1 848.39M984.62 836.61L984.11 845.63L986.12 847.64M959.55 843.63L964.06 841.62L967.57 843.13M962.45 856.97L966.87 862.18M964.06 865.19L970.08 859.17L973.58 854.66M969.07 856.16L973.08 854.16M960.05 837.71L962.05 838.92M999.16 805.52L1002.67 804.52L1004.17 807.03M995.65 807.53L1000.16 805.52L1003.67 807.03M997.65 822.07L997.65 828.09M998.55 820.87L1002.97 826.08M991.63 829.09L995.65 831.6M999.16 841.62L1002.67 840.62L1004.17 843.13M996.15 801.61L998.15 802.82M995.65 843.63L1000.16 841.62L1003.67 843.13M998.55 856.97L1002.97 862.18M996.15 837.71L998.15 838.92"/><path class="gw" d="M923.15 794.9L924.15 803.4L926.65 803.4ZM923.15 831L924.15 839.5L926.65 839.5ZM959.25 794.9L960.25 803.4L962.75 803.4ZM959.25 831L960.25 839.5L962.75 839.5ZM995.35 794.9L996.35 803.4L998.85 803.4ZM995.35 831L996.35 839.5L998.85 839.5Z"/></g>
<path class="n" d="M751.3 799.3C750.9 806 752.5 810.5 756 815C760.5 820.5 766.5 824 766.9 830.5L764.4 854.3H834.4V799.3Z"/>
<path class="n" d="M906.9 799.3H993.1C997.1 803 996.5 808.5 992 813C986.5 819 980 823 979.5 830.5L982.5 854.3H906.9Z"/>
</g>
<path class="o" d="M834.4 799.5L834.4 854.3"/>
<path class="o" d="M840 799.5L840 854.3"/>
<path class="o" d="M901.5 799.5L901.5 854.3"/>
<path class="o" d="M906.7 799.5L906.7 854.3"/>
<rect x="819.55" y="857.3" width="102.8" height="3" fill="#9a9a9a"/>
<path class="o" d="M819.55 854.4H922.35V860.3H819.55Z"/>
<path class="o" d="M819.55 857.3L922.35 857.3"/>
<path class="o" d="M828.55 860.3V862.5H913.35V860.3"/>
<path class="gr" d="M834.95 865L906.95 865"/>
<path class="o" d="M834.4 862.5V879.5C834.4 883.5 838.95 883 838.95 887V897.2C838.95 901 834.4 900.5 834.4 905.5V946"/>
<path class="o" d="M907.5 862.5V879.5C907.5 883.5 902.95 883 902.95 887V897.2C902.95 901 907.5 900.5 907.5 905.5V946"/>
<path class="n" d="M834.4 879.8L907.5 879.8"/>
<path class="k" d="M838.95 887L902.95 887"/>
<path class="t" d="M838.95 889.2L902.95 889.2"/>
<path class="k" d="M838.95 897.2L902.95 897.2"/>
<path class="o" d="M834.4 905.2L907.5 905.2"/>
<path class="o" d="M834.4 945L834.4 981.3"/>
<path class="o" d="M907.5 945L907.5 981.3"/>
<path class="o" d="M834.4 981.3L907.5 981.3"/>
<path class="o" d="M834.4 943.99L835.92 943.55L837.45 943.25L838.97 943.11L840.49 943.14L842.01 943.34L843.54 943.7L845.06 944.17L846.58 944.72L848.11 945.29L849.63 945.84L851.15 946.31L852.68 946.66L854.2 946.86L855.72 946.89L857.24 946.74L858.77 946.44L860.29 946L861.81 945.47L863.34 944.9L864.86 944.34L866.38 943.84L867.9 943.44L869.43 943.19L870.95 943.1L872.47 943.19L874 943.44L875.52 943.84L877.04 944.34L878.56 944.9L880.09 945.47L881.61 946L883.13 946.44L884.66 946.74L886.18 946.89L887.7 946.86L889.23 946.66L890.75 946.31L892.27 945.84L893.79 945.29L895.32 944.72L896.84 944.17L898.36 943.7L899.89 943.34L901.41 943.14L902.93 943.11L904.45 943.25L905.98 943.55L907.5 943.99"/>
<path class="o" d="M834.4 948.18L835.92 948.39L837.45 948.53L838.97 948.6L840.49 948.58L842.01 948.48L843.54 948.32L845.06 948.09L846.58 947.83L848.11 947.56L849.63 947.3L851.15 947.08L852.68 946.91L854.2 946.82L855.72 946.8L857.24 946.87L858.77 947.02L860.29 947.23L861.81 947.48L863.34 947.75L864.86 948.01L866.38 948.25L867.9 948.44L869.43 948.56L870.95 948.6L872.47 948.56L874 948.44L875.52 948.25L877.04 948.01L878.56 947.75L880.09 947.48L881.61 947.23L883.13 947.02L884.66 946.87L886.18 946.8L887.7 946.82L889.23 946.91L890.75 947.08L892.27 947.3L893.79 947.56L895.32 947.83L896.84 948.09L898.36 948.32L899.89 948.48L901.41 948.58L902.93 948.6L904.45 948.53L905.98 948.39L907.5 948.18"/>
<path class="o" d="M842.3 947L842.3 981.3"/>
<path class="o" d="M863.35 953.2L863.35 981.3"/>
<path class="o" d="M878.35 953.2L878.35 981.3"/>
<path class="o" d="M899.6 947L899.6 981.3"/>
<path class="n" d="M865.65 944L865.65 952.5"/>
<path class="n" d="M876.15 944L876.15 952.5"/>
<path class="n" d="M842.3 953.2L852.85 947.6L863.35 953.2"/>
<path class="n" d="M878.35 953.2L889.05 947.6L899.6 953.2"/>
<path class="n" d="M863.35 953.2Q870.95 956 878.35 953.2"/>
<path class="n" d="M834.4 952.3Q838.45 956.3 842.3 953.2"/>
<path class="n" d="M907.5 952.3Q903.45 956.3 899.6 953.2"/>
<path class="n" d="M834.4 948.5Q839.95 953 852.85 947.6"/>
<path class="n" d="M907.5 948.5Q901.95 953 889.05 947.6"/>
<path class="n" d="M852.85 947.6Q870.95 951.5 889.05 947.6"/>
<rect class="k2" x="847.15" y="955.8" width="11.8" height="19.8" rx="5.9" ry="7.5"/>
<rect class="k2" x="882.95" y="955.8" width="11.8" height="19.8" rx="5.9" ry="7.5"/>
<path class="n" d="M837.5 830L837.5 897"/>
<clipPath id="h8720"><path d="M859.4 981.3L859.4 1001.27L860.45 1001.64L861.5 1001.91L862.55 1002.07L863.6 1002.09L864.65 1001.99L865.7 1001.77L866.75 1001.44L867.8 1001.02L868.85 1000.55L869.9 1000.05L870.95 999.57L872 999.13L873.05 998.76L874.1 998.49L875.15 998.33L876.2 998.31L877.25 998.41L878.3 998.63L879.35 998.96L880.4 999.38L881.45 999.85L882.5 1000.35L883.55 1000.83L884.6 1001.27L884.6 981.3Z"/><path d="M859.4 1006.9L860.45 1007.21L861.5 1007.44L862.55 1007.57L863.6 1007.6L864.65 1007.51L865.7 1007.32L866.75 1007.04L867.8 1006.69L868.85 1006.29L869.9 1005.88L870.95 1005.47L872 1005.1L873.05 1004.79L874.1 1004.56L875.15 1004.43L876.2 1004.4L877.25 1004.49L878.3 1004.68L879.35 1004.96L880.4 1005.31L881.45 1005.71L882.5 1006.12L883.55 1006.53L884.6 1006.9L884.6 1023.3L859.4 1023.3Z"/></clipPath>
<g clip-path="url(#h8720)"><path class="n" d="M859.4 927L884.6 952.2M859.4 932.5L884.6 957.7M859.4 942L884.6 967.2M859.4 947.5L884.6 972.7M859.4 957L884.6 982.2M859.4 962.5L884.6 987.7M859.4 972L884.6 997.2M859.4 977.5L884.6 1002.7M859.4 987L884.6 1012.2M859.4 992.5L884.6 1017.7M859.4 1002L884.6 1027.2M859.4 1007.5L884.6 1032.7M859.4 1017L884.6 1042.2M859.4 1022.5L884.6 1047.7M859.4 1032L884.6 1057.2M859.4 1037.5L884.6 1062.7M859.4 1047L884.6 1072.2M859.4 1052.5L884.6 1077.7M859.4 1062L884.6 1087.2M859.4 1067.5L884.6 1092.7M859.4 1077L884.6 1102.2M859.4 1082.5L884.6 1107.7M864.4 943.6L871.5 936M859.4 956.6L864.9 951.1M872 948.6L878 942.6M879.6 945L884.6 940M864.4 958.6L871.5 951M859.4 971.6L864.9 966.1M872 963.6L878 957.6M879.6 960L884.6 955M864.4 973.6L871.5 966M859.4 986.6L864.9 981.1M872 978.6L878 972.6M879.6 975L884.6 970M864.4 988.6L871.5 981M859.4 1001.6L864.9 996.1M872 993.6L878 987.6M879.6 990L884.6 985M864.4 1003.6L871.5 996M859.4 1016.6L864.9 1011.1M872 1008.6L878 1002.6M879.6 1005L884.6 1000M864.4 1018.6L871.5 1011M859.4 1031.6L864.9 1026.1M872 1023.6L878 1017.6M879.6 1020L884.6 1015M864.4 1033.6L871.5 1026M859.4 1046.6L864.9 1041.1M872 1038.6L878 1032.6M879.6 1035L884.6 1030M864.4 1048.6L871.5 1041M859.4 1061.6L864.9 1056.1M872 1053.6L878 1047.6M879.6 1050L884.6 1045M864.4 1063.6L871.5 1056M859.4 1076.6L864.9 1071.1M872 1068.6L878 1062.6M879.6 1065L884.6 1060M864.4 1078.6L871.5 1071M859.4 1091.6L864.9 1086.1M872 1083.6L878 1077.6M879.6 1080L884.6 1075M864.4 1093.6L871.5 1086M859.4 1106.6L864.9 1101.1M872 1098.6L878 1092.6M879.6 1095L884.6 1090"/></g>
<path class="o" d="M859.4 981.3L859.4 1001.27L860.45 1001.64L861.5 1001.91L862.55 1002.07L863.6 1002.09L864.65 1001.99L865.7 1001.77L866.75 1001.44L867.8 1001.02L868.85 1000.55L869.9 1000.05L870.95 999.57L872 999.13L873.05 998.76L874.1 998.49L875.15 998.33L876.2 998.31L877.25 998.41L878.3 998.63L879.35 998.96L880.4 999.38L881.45 999.85L882.5 1000.35L883.55 1000.83L884.6 1001.27L884.6 981.3Z"/>
<path class="o" d="M859.4 1006.9L860.45 1007.21L861.5 1007.44L862.55 1007.57L863.6 1007.6L864.65 1007.51L865.7 1007.32L866.75 1007.04L867.8 1006.69L868.85 1006.29L869.9 1005.88L870.95 1005.47L872 1005.1L873.05 1004.79L874.1 1004.56L875.15 1004.43L876.2 1004.4L877.25 1004.49L878.3 1004.68L879.35 1004.96L880.4 1005.31L881.45 1005.71L882.5 1006.12L883.55 1006.53L884.6 1006.9L884.6 1023.3L859.4 1023.3Z"/>
<path class="n" d="M871 981.3L871 1000"/>
<path class="o" d="M871 1004L871 1032"/>
<path class="n1" d="M859.4 1023.3H884.6Q885.8 1026.5 883 1032.2H861Q858.2 1026.5 859.4 1023.3Z"/>
<path class="k1" d="M861.3 1032.3H882.7V1051.3H861.3Z"/>
<path class="n" d="M868.6 1032.3L868.6 1051.3"/>
<path class="n" d="M869.8 1032.3L869.8 1051.3"/>
<path class="n" d="M874.4 1032.3L874.4 1051.3"/>
<path class="n" d="M875.6 1032.3L875.6 1051.3"/>
<path class="n" d="M862.7 1032.3L862.7 1051.3"/>
<path class="n" d="M881.3 1032.3L881.3 1051.3"/>
<rect class="n1" x="859.1" y="1051.6" width="25.8" height="6.2" rx="3.1"/>
<path class="n1" d="M852.6 1058.3H890Q891.6 1069.5 890 1080.7H852.6Q851 1069.5 852.6 1058.3Z"/>
<circle class="n1" cx="871.3" cy="1069.4" r="9.2"/>
<ellipse class="n" cx="856.3" cy="1069.4" rx="3" ry="9"/>
<ellipse class="n" cx="886" cy="1069.4" rx="3" ry="9"/>
<path class="cR" d="M870.5 592L870.5 688"/>
<path class="cS" d="M870.5 690L870.5 1091"/>
<path class="t" d="M675.8 86.7L870 86.7"/>
<path class="tg2" d="M675.8 86.7L675.8 800"/>
<path class="a" d="M675.8 86.7L676.8 92.2L674.8 92.2Z"/>
<path class="a" d="M675.8 800L674.8 794.5L676.8 794.5Z"/>
<path class="t" d="M846.9 488.5L893.1 488.5"/>
<path class="a" d="M846.9 488.5L851.9 487.5L851.9 489.5Z"/>
<path class="a" d="M893.1 488.5L888.1 489.5L888.1 487.5Z"/>
<path class="t" d="M724.4 616.7L830.6 616.7"/>
<path class="t" d="M724.4 616.7L724.4 800"/>
<path class="a" d="M724.4 616.7L725.4 622.2L723.4 622.2Z"/>
<path class="a" d="M724.4 800L723.4 794.5L725.4 794.5Z"/>
<path class="t" d="M763.6 712.5L830.6 712.5"/>
<path class="t" d="M763.6 712.5L763.6 800"/>
<path class="a" d="M763.6 712.5L764.6 718L762.6 718Z"/>
<path class="a" d="M763.6 800L762.6 794.5L764.6 794.5Z"/>
<path class="t" d="M804.6 761L804.6 800"/>
<path class="n" d="M804.6 782.4L823.4 782.4"/>
<path class="a" d="M804.6 782.4L805.6 787.4L803.6 787.4Z"/>
<path class="a" d="M804.6 799.3L803.6 794.3L805.6 794.3Z"/>
<path class="t" d="M823.4 766.3L918.3 766.3"/>
<path class="t" d="M823.4 766.3L823.4 783"/>
<path class="t" d="M918.3 766.3L918.3 783"/>
<path class="a" d="M823.4 766.3L828.4 765.3L828.4 767.3Z"/>
<path class="a" d="M918.3 766.3L913.3 767.3L913.3 765.3Z"/>
<path class="t" d="M985.5 573.2L1089.5 573.2"/>
<path class="t" d="M1040.7 573.2L1040.7 749.8"/>
<path class="t" d="M1089.5 573.2L1089.5 800"/>
<path class="t" d="M997.3 749.8L1040.7 749.8"/>
<path class="a" d="M1040.7 573.2L1041.7 578.7L1039.7 578.7Z"/>
<path class="a" d="M1040.7 749.8L1039.7 744.3L1041.7 744.3Z"/>
<path class="a" d="M1089.5 573.2L1090.5 578.7L1088.5 578.7Z"/>
<path class="a" d="M1089.5 800L1088.5 794.5L1090.5 794.5Z"/>
<path class="t" d="M752 800L752 975.5"/>
<path class="t" d="M752 854.4L819 854.4"/>
<path class="a" d="M752 800L753 805L751 805Z"/>
<path class="a" d="M752 854.4L751 849.4L753 849.4Z"/>
<path class="t" d="M907 901.7L1032.5 901.7"/>
<path class="o" d="M840.3 968L840.3 997.4"/>
<path class="o" d="M901.5 968L901.5 997.4"/>
<path class="t" d="M840.3 997.4L1025 997.4"/>
<path class="a" d="M840.3 997.4L845.3 996.4L845.3 998.4Z"/>
<path class="a" d="M901.5 997.4L896.5 998.4L896.5 996.4Z"/>
<path class="t" d="M857.4 1080.7L857.4 1113.3"/>
<path class="t" d="M886 1080.7L886 1113.3"/>
<path class="t" d="M752.5 1113L886 1113"/>
<path class="a" d="M857.4 1113L862.4 1112L862.4 1114Z"/>
<path class="a" d="M886 1113L881 1114L881 1112Z"/>
<text transform="translate(338.5 348) scale(0.7 1)" y="0" font-size="30"><tspan x="7.86 23.57 39.29">192</tspan></text>
<text transform="translate(129 554) rotate(-90) scale(0.7 1)" y="0" font-size="30"><tspan x="7.86 23.57 39.29">276</tspan></text>
<text transform="translate(675.3 460) rotate(-90) scale(0.7 1)" y="0" font-size="30"><tspan x="7.86 23.57 39.29">374</tspan></text>
<text transform="translate(852.5 488.2) scale(0.7 1)" y="0" font-size="30"><tspan x="8.93" font-style="italic" font-size="36">ø</tspan><tspan x="24.64 41.07">24</tspan></text>
<text transform="translate(1040.3 672.5) rotate(-90) scale(0.7 1)" y="0" font-size="30"><tspan x="7.86 23.57">93</tspan></text>
<text transform="translate(1089.2 702.5) rotate(-90) scale(0.7 1)" y="0" font-size="30"><tspan x="7.86 23.57 39.29">119</tspan></text>
<text transform="translate(723.8 719.5) rotate(-90) scale(0.7 1)" y="0" font-size="30"><tspan x="7.86 23.57">96</tspan></text>
<text transform="translate(763 750) rotate(-90) scale(0.7 1)" y="0" font-size="30"><tspan x="7.86 23.57">46</tspan></text>
<text transform="translate(804.2 770.8) rotate(-90) scale(0.7 1)" y="0" font-size="30"><tspan x="7.86">9</tspan></text>
<text transform="translate(853 765.6) scale(0.7 1)" y="0" font-size="30"><tspan x="8.93" font-style="italic" font-size="36">ø</tspan><tspan x="24.64 41.07">50</tspan></text>
<text transform="translate(914.6 897.5) scale(0.7 1)" y="0" font-size="30"><tspan x="14.64 40.18 56.25 72.32 88.39 104.46 120.54 136.61 152.68 165.18">Φ35(+2/-1)</tspan></text>
<text transform="translate(913.2 993) scale(0.7 1)" y="0" font-size="27.5"><tspan x="7.86" textLength="17.6" lengthAdjust="spacingAndGlyphs">M</tspan><tspan x="23.57 39.29">32</tspan><tspan x="55" textLength="17.6" lengthAdjust="spacingAndGlyphs">X</tspan><tspan x="70.71 82.86 102.14 117.86 133.57 149.29">1.5-6g</tspan></text>
<text transform="translate(751.9 1109.4) scale(0.7 1)" y="0" font-size="30"><tspan x="7.93 23.79">2-</tspan><tspan x="39.64" textLength="17.76" lengthAdjust="spacingAndGlyphs">G</tspan><tspan x="55.5 71.36 87.21 103.07 118.93 134.79">3/8-19</tspan></text>
<text transform="translate(751.6 975) rotate(-90) scale(0.7 1)" y="0" font-size="30"><tspan x="7.86" textLength="17.6" lengthAdjust="spacingAndGlyphs">M</tspan><tspan x="23.57 39.29 55 70.71 86.43">ax35-</tspan><tspan x="102.14" textLength="17.6" lengthAdjust="spacingAndGlyphs">M</tspan><tspan x="117.86 133.57 149.29">in1</tspan></text>
<text class="wm" transform="translate(31 141) rotate(-45)" font-size="46">STM</text>
<path d="M106 22L128 0M110.6 26.6L132.6 4.6M115.2 31.2L137.2 9.2M119.8 35.8L141.8 13.8M124.4 40.4L146.4 18.4M129 45L151 23M133.6 49.6L155.6 27.6M138.2 54.2L160.2 32.2M142.8 58.8L164.8 36.8" stroke="#f4f4f4" stroke-width="2" fill="none"/>
</svg>
</body></html>
